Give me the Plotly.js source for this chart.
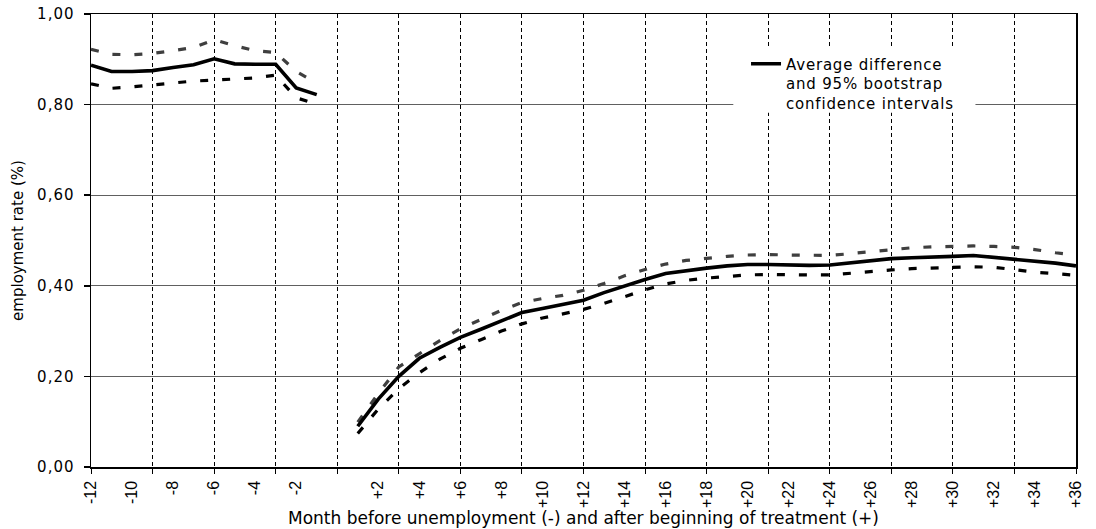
<!DOCTYPE html>
<html><head><meta charset="utf-8">
<script src="https://cdn.plot.ly/plotly-3.0.1.min.js"></script>
<style>
body{margin:0;background:#fff}
#chart{width:1096px;height:529px}
.ytick text{letter-spacing:1px}
.legendtext{letter-spacing:0.8px}
</style>
</head><body><div id="chart"></div>
<script>
const monthsPre = [-12,-11,-10,-9,-8,-7,-6,-5,-4,-3,-2,-1];
const monthsPost = [1,2,3,4,5,6,7,8,9,10,11,12,13,14,15,16,17,18,19,20,21,22,23,24,25,26,27,28,29,30,31,32,33,34,35,36];

const meanPre  = [0.887,0.873,0.873,0.875,0.882,0.888,0.901,0.890,0.889,0.889,0.837,0.822];
const upperPre = [0.922,0.911,0.910,0.913,0.919,0.926,0.943,0.930,0.919,0.915,0.873,0.847];
const lowerPre = [0.846,0.836,0.839,0.843,0.848,0.852,0.854,0.857,0.859,0.865,0.815,0.801];

const meanPost = [0.090,0.150,0.200,0.240,0.264,0.286,0.304,0.322,0.341,0.350,0.358,0.368,
                  0.385,0.400,0.414,0.427,0.434,0.439,0.444,0.447,0.447,0.446,0.445,0.446,
                  0.451,0.456,0.460,0.462,0.463,0.465,0.467,0.463,0.459,0.455,0.450,0.444];
const upperPost = [0.099,0.162,0.221,0.251,0.279,0.305,0.326,0.346,0.363,0.372,0.379,0.390,
                   0.405,0.422,0.436,0.448,0.456,0.461,0.465,0.468,0.469,0.468,0.467,0.467,
                   0.471,0.475,0.480,0.484,0.486,0.487,0.488,0.487,0.485,0.480,0.473,0.468];
const lowerPost = [0.074,0.128,0.173,0.208,0.238,0.262,0.281,0.300,0.316,0.329,0.338,0.348,
                   0.361,0.376,0.391,0.404,0.412,0.417,0.421,0.424,0.425,0.424,0.424,0.424,
                   0.428,0.432,0.435,0.438,0.439,0.441,0.442,0.441,0.435,0.430,0.427,0.423];

const tickVals = [-12,-10,-8,-6,-4,-2,0,2,4,6,8,10,12,14,16,18,20,22,24,26,28,30,32,34,36];
const tickLabels = ["-12","-10","-8","-6","-4","-2","","+2","+4","+6","+8","+10","+12","+14","+16","+18","+20","+22","+24","+26","+28","+30","+32","+34","+36"];
const gridVals = [-12,-9,-6,-3,0,3,6,9,12,15,18,21,24,27,30,33,36];
const yTickVals = [0,0.2,0.4,0.6,0.8,1.0];
const yTickLabels = ["0,00","0,20","0,40","0,60","0,80","1,00"];
const legendLabel = "Average difference<br>and 95% bootstrap<br>confidence intervals";
const xTitle = "Month before unemployment (-) and after beginning of treatment (+)";
const yTitle = "employment rate (%)";

const xs = monthsPre.concat([0], monthsPost);
function join(pre, post){ return pre.concat([null], post); }

const FONT = 'DejaVu Sans';
const ARIAL = 'Liberation Sans, Arial, sans-serif';
const traces = [
  {x: xs, y: join(upperPre, upperPost), type:'scatter', mode:'lines', connectgaps:false,
   line:{color:'#3f3f3f', width:3.2, dash:'8px,14px'}, showlegend:false, hoverinfo:'skip'},
  {x: xs, y: join(lowerPre, lowerPost), type:'scatter', mode:'lines', connectgaps:false, xaxis:'x2',
   line:{color:'#000', width:3.2, dash:'8px,14px'}, showlegend:false, hoverinfo:'skip'},
  {x: xs, y: join(meanPre, meanPost), type:'scatter', mode:'lines', connectgaps:false,
   line:{color:'#000', width:3.6}, name: legendLabel, showlegend:true}
];

const layout = {
  width:1096, height:529,
  margin:{l:91, r:20, t:14, b:62},
  paper_bgcolor:'#fff', plot_bgcolor:'#fff',
  font:{family:FONT, color:'#000', size:15},
  showlegend:true,
  legend:{x:0.665, y:0.926, xanchor:'left', yanchor:'top', bgcolor:'rgba(0,0,0,0)',
          borderwidth:0, font:{family:FONT, size:15, color:'#000'}, valign:'top', itemwidth:30},
  xaxis:{range:[-12,36], tickmode:'array', tickvals:tickVals, ticktext:tickLabels, tickangle:-90,
         ticks:'', showgrid:false, zeroline:false, showline:true, linecolor:'#000', linewidth:1.5,
         mirror:true, ticklabelstandoff:6, tickfont:{family:ARIAL, size:16, color:'#000'},
         title:{text:xTitle, font:{family:FONT, size:17, color:'#000'}, standoff:4}, fixedrange:true},
  xaxis2:{overlaying:'x', anchor:'y', side:'bottom', range:[-12,36], tickmode:'array', tickvals:gridVals,
          showticklabels:false, ticks:'outside', ticklen:6, tickwidth:1, tickcolor:'#000',
          showgrid:true, gridcolor:'#000', gridwidth:1, griddash:'4px,3px', zeroline:false, showline:false,
          fixedrange:true},
  yaxis:{range:[0,1], tickmode:'array', tickvals:yTickVals, ticktext:yTickLabels, ticks:'outside',
         ticklen:6, tickwidth:1.5, tickcolor:'#000', showgrid:true, gridcolor:'#606060', gridwidth:1,
         zeroline:false, showline:true, linecolor:'#000', linewidth:1.5, mirror:true, ticklabelstandoff:6,
         tickfont:{family:FONT, size:15, color:'#000'},
         title:{text:yTitle, font:{family:FONT, size:15, color:'#000'}, standoff:10}, fixedrange:true},
  shapes:[{type:'rect', xref:'x', yref:'y', x0:19.3, x1:31.1, y0:0.782, y1:0.926,
           fillcolor:'#fff', line:{width:0}, layer:'above'}]
};

Plotly.newPlot('chart', traces, layout, {staticPlot:true, displayModeBar:false});
</script>
</body></html>
